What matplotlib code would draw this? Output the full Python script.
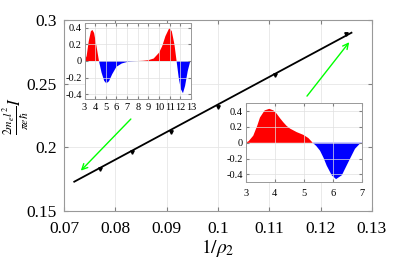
import matplotlib
matplotlib.use("Agg")
import matplotlib.pyplot as plt
import numpy as np

config = {
    "font.family": "serif",
    "font.serif": ["Liberation Serif", "DejaVu Serif"],
    "mathtext.fontset": "stix",
    "axes.unicode_minus": False,
}
plt.rcParams.update(config)

# main data: current vs 1/rho_2
inv_rho = [1 / 13, 1 / 12, 1 / 11, 1 / 10, 1 / 9, 1 / 8]
current = [0.183, 0.196, 0.212, 0.232, 0.257, 0.289]
fit_x = [0.072, 0.126]
fit_y = [0.173, 0.290]

# inset 1 curve
ins1_x = [3.0, 3.2, 3.4, 3.6, 3.74, 3.9, 4.1, 4.36, 4.6, 4.85, 5.05, 5.3, 5.6,
          6.0, 6.5, 7.0, 7.5, 8.0, 8.5, 9.0, 9.5, 10.0, 10.3, 10.6, 10.97,
          11.2, 11.45, 11.65, 11.85, 12.05, 12.25, 12.45, 12.7, 12.9, 13.0]
ins1_y = [0.0, 0.06, 0.24, 0.36, 0.376, 0.34, 0.2, 0.0, -0.14, -0.24, -0.27,
          -0.245, -0.16, -0.07, -0.03, -0.012, -0.005, 0.0, 0.003, 0.01, 0.03,
          0.1, 0.18, 0.3, 0.40, 0.36, 0.2, 0.0, -0.2, -0.34, -0.39, -0.3,
          -0.12, -0.02, 0.0]

# inset 2 curve
ins2_x = [3.0, 3.1, 3.26, 3.4, 3.49, 3.65, 3.81, 3.95, 4.06, 4.18, 4.29, 4.4,
          4.52, 4.75, 4.98, 5.15, 5.3, 5.42, 5.55, 5.67, 5.78, 5.95, 6.1,
          6.3, 6.52, 6.75, 6.92, 7.0]
ins2_y = [0.0, 0.02, 0.09, 0.22, 0.32, 0.41, 0.43, 0.41, 0.37, 0.31, 0.26,
          0.215, 0.18, 0.135, 0.10, 0.06, 0.0, -0.04, -0.10, -0.19, -0.29,
          -0.41, -0.46, -0.41, -0.245, -0.076, -0.01, 0.0]

fig = plt.figure(figsize=(4.11, 2.68), dpi=100)
ax = fig.add_axes([0.1557, 0.2127, 0.7494, 0.7127])
ax.plot(fit_x, fit_y, color="k", lw=1.3, zorder=3)
ax.plot(inv_rho, current, "v", color="k", ms=2.5, zorder=3)
ax.set_xlim(0.07, 0.13)
ax.set_ylim(0.15, 0.3)
ax.set_xticks([0.07, 0.08, 0.09, 0.1, 0.11, 0.12, 0.13])
ax.set_xticklabels(["0.07", "0.08", "0.09", "0.1", "0.11", "0.12", "0.13"])
ax.set_yticks([0.15, 0.2, 0.25, 0.3])
ax.set_yticklabels(["0.15", "0.2", "0.25", "0.3"])
ax.grid(True, color="0.9", lw=0.6)
ax.tick_params(direction="in", length=3, labelsize=12.5, color="0.5",
               top=True, right=True)
ax.tick_params(axis="x", pad=7)
ax.tick_params(axis="y", pad=5)
for s in ax.spines.values():
    s.set_color("0.6")
    s.set_linewidth(0.8)
ax.set_xlabel(r"$1/\rho_2$", fontsize=14, labelpad=0)
ax.set_ylabel(r"$\frac{2m_e l^2}{\pi e\hbar}I$", fontsize=12)
ax.yaxis.set_label_coords(-0.108, 0.5)

ax.annotate("", xy=(0.0729, 0.1801), xytext=(0.0834, 0.2238),
            arrowprops=dict(arrowstyle="->", color="#00ff00", lw=1), zorder=4)
ax.annotate("", xy=(0.1259, 0.2843), xytext=(0.1170, 0.2385),
            arrowprops=dict(arrowstyle="->", color="#00ff00", lw=1), zorder=4)


def style_inset(a):
    a.grid(True, color="0.88", lw=0.5)
    a.tick_params(direction="in", length=2, labelsize=7.5, pad=2, color="0.5",
                  top=True, right=True)
    for s in a.spines.values():
        s.set_color("0.6")
        s.set_linewidth(0.7)
    a.set_yticks([-0.4, -0.2, 0, 0.2, 0.4])
    a.set_yticklabels(["-0.4", "-0.2", "0", "0.2", "0.4"])


def fill_curve(a, x, y):
    x = np.array(x)
    y = np.array(y)
    a.fill_between(x, 0, y, where=y >= 0, color="red", lw=0, interpolate=True)
    a.fill_between(x, 0, y, where=y <= 0, color="blue", lw=0, interpolate=True)


in1 = fig.add_axes([0.2056, 0.6306, 0.259, 0.2836])
fill_curve(in1, ins1_x, ins1_y)
in1.set_xlim(3, 13)
in1.set_ylim(-0.46, 0.46)
in1.set_xticks(range(3, 14))
style_inset(in1)
in1.tick_params(axis="x", pad=3)

in2 = fig.add_axes([0.5978, 0.3198, 0.2837, 0.2948])
fill_curve(in2, ins2_x, ins2_y)
in2.set_xlim(3, 7)
in2.set_ylim(-0.5, 0.5)
in2.set_xticks([3, 4, 5, 6, 7])
style_inset(in2)
in2.tick_params(axis="x", pad=5)

fig.savefig("out.png", dpi=100)
